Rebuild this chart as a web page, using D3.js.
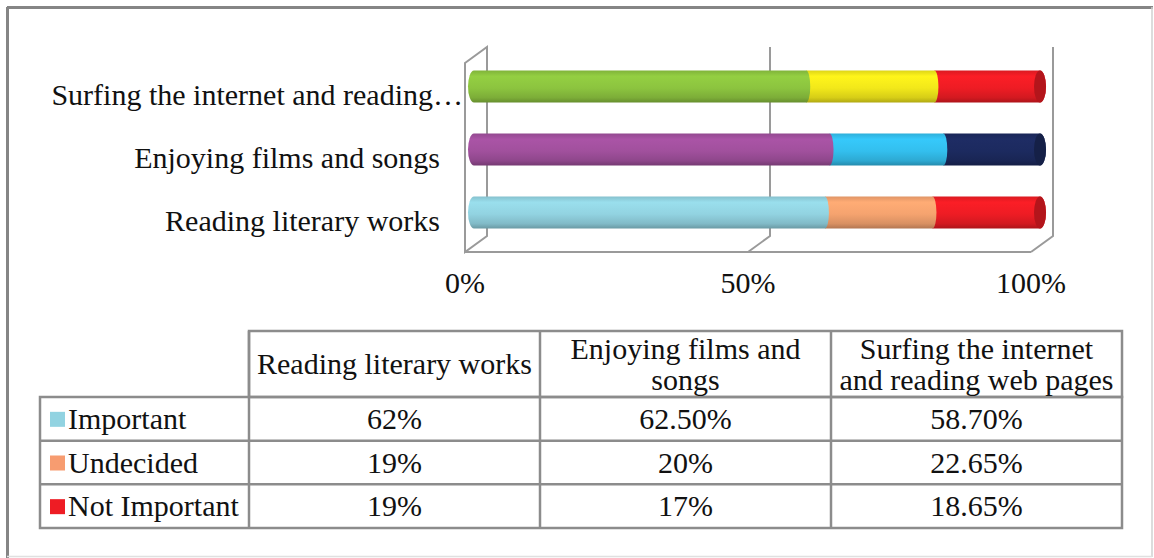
<!DOCTYPE html>
<html>
<head>
<meta charset="utf-8">
<script src="https://cdn.jsdelivr.net/npm/d3@7"></script>
<style>
  html, body { margin: 0; padding: 0; background: #fff; }
  svg { display: block; }
  text { font-family: "Liberation Serif", "Times New Roman", serif; fill: #111; }
</style>
</head>
<body>
<div id="chart"></div>
<script>
// data
const categories = ["Reading literary works", "Enjoying films and songs", "Surfing the internet and reading web pages"];
const axisLabels = ["Reading literary works", "Enjoying films and songs", "Surfing the internet and reading\u2026"];
const headerLines = [["Reading literary works"], ["Enjoying films and", "songs"], ["Surfing the internet", "and reading web pages"]];
const seriesNames = ["Important", "Undecided", "Not Important"];
const important = [62, 62.5, 58.7];
const undecided = [19, 20, 22.65];
const notImportant = [19, 17, 18.65];
const tickValues = [0, 0.5, 1];
const tickLabels = ["0%", "50%", "100%"];
const legendColors = ["#92d3e1", "#f79c70", "#ee1c24"];
// each bar has its own colours (Excel "vary colours by point")
const barColors = [
  ["#92d3e1", "#f5a36f", "#ee1c24"],
  ["#a1509d", "#33bfee", "#1c2a5f"],
  ["#8cc43f", "#f2e81a", "#ee1c24"]
];

const series = [important, undecided, notImportant];
const FS = 30;

const W = 1154, H = 558;
const svg = d3.select("#chart").append("svg").attr("width", W).attr("height", H);
const defs = svg.append("defs");

// outer frame
svg.append("line").attr("x1", 7).attr("y1", 7.5).attr("x2", 1153).attr("y2", 7.5)
  .attr("stroke", "#858585").attr("stroke-width", 3);
svg.append("line").attr("x1", 7.5).attr("y1", 7).attr("x2", 7.5).attr("y2", 558)
  .attr("stroke", "#858585").attr("stroke-width", 3);
svg.append("line").attr("x1", 1152).attr("y1", 7).attr("x2", 1152).attr("y2", 557)
  .attr("stroke", "#d0d0d0").attr("stroke-width", 1.5);
svg.append("line").attr("x1", 7).attr("y1", 556.5).attr("x2", 1152).attr("y2", 556.5)
  .attr("stroke", "#e0e0e0").attr("stroke-width", 1.5);

// ---- 3D bar chart ----
const depthX = 22, depthY = -16;
const x = d3.scaleLinear().domain([0, 1]).range([465, 1031]);
const y = d3.scaleBand().domain(categories.slice().reverse()).range([63, 252]);
const grid = "#9a9a9a";

const walls = svg.append("g").attr("fill", "none").attr("stroke", grid).attr("stroke-width", 2);
const plotTop = y.range()[0], plotBottom = y.range()[1];
// left wall
walls.append("path").attr("d",
  `M${x(0)},${plotTop} L${x(0) + depthX},${plotTop + depthY} L${x(0) + depthX},${plotBottom + depthY} L${x(0)},${plotBottom} Z`);
// gridlines (back wall + floor)
tickValues.slice(1).forEach((t) => {
  walls.append("path").attr("d",
    `M${x(t) + depthX},${plotTop + depthY} L${x(t) + depthX},${plotBottom + depthY} L${x(t)},${plotBottom}`);
});
walls.append("line").attr("x1", x(0)).attr("y1", plotBottom).attr("x2", x(1)).attr("y2", plotBottom);

// tick labels
svg.append("g").selectAll("text").data(tickValues).join("text")
  .attr("x", (d) => x(d)).attr("y", 293)
  .attr("text-anchor", "middle").attr("font-size", FS)
  .text((d, i) => tickLabels[i]);

// category labels
svg.append("g").selectAll("text").data(categories).join("text")
  .attr("x", (d, i) => (i === 2 ? 463 : 440))
  .attr("y", (d) => y(d) + y.bandwidth() / 2 + 10)
  .attr("text-anchor", "end").attr("font-size", FS)
  .text((d, i) => axisLabels[i]);

// gradients for cylinders
function gradId(c) { return "g" + c.replace("#", ""); }
const allColors = Array.from(new Set(barColors.flat()));
allColors.forEach((c) => {
  const base = d3.color(c);
  const g = defs.append("linearGradient").attr("id", gradId(c))
    .attr("x1", 0).attr("y1", 0).attr("x2", 0).attr("y2", 1);
  g.append("stop").attr("offset", "0%").attr("stop-color", base.darker(0.25));
  g.append("stop").attr("offset", "18%").attr("stop-color", base.brighter(0.15));
  g.append("stop").attr("offset", "55%").attr("stop-color", base);
  g.append("stop").attr("offset", "85%").attr("stop-color", base.darker(0.35));
  g.append("stop").attr("offset", "100%").attr("stop-color", base.darker(0.9));
});

const barR = 16, capR = 6, seamR = 4;
const bars = svg.append("g");
categories.forEach((cat, ci) => {
  const vals = series.map((s) => s[ci]);
  const total = d3.sum(vals);
  let acc = 0;
  const segs = vals.map((v, si) => {
    const s = { x0: acc / total, x1: (acc + v) / total, si };
    acc += v;
    return s;
  });
  const cy = y(cat) + y.bandwidth() / 2 + depthY / 2;
  const ox = 9;
  const g = bars.append("g");
  // draw right to left so each convex end covers the next one
  segs.slice().reverse().forEach((s) => {
    const c = barColors[ci][s.si];
    const a = x(s.x0) + ox, b = x(s.x1) + ox;
    const last = s.si === segs.length - 1;
    const r = last ? capR : seamR;
    let d = `M${a},${cy - barR} L${b},${cy - barR} A${r},${barR} 0 0 1 ${b},${cy + barR} L${a},${cy + barR}`;
    if (s.si === 0) d += ` A${capR},${barR} 0 0 1 ${a},${cy - barR}`;
    d += " Z";
    g.append("path").attr("d", d).attr("fill", `url(#${gradId(c)})`);
    if (last) {
      g.append("ellipse").attr("cx", b).attr("cy", cy).attr("rx", capR).attr("ry", barR)
        .attr("fill", d3.color(c).darker(0.8));
    }
  });
});

// ---- data table ----
const colX = d3.scaleBand().domain(categories).range([249, 1122]);
const rowY = d3.scaleBand().domain(seriesNames).range([397, 528]);
const tableLeft = 40, headerTop = 331;
const fmt = (v) => (Number.isInteger(v) ? v + "%" : v.toFixed(2) + "%");

const tbl = svg.append("g").attr("fill", "none").attr("stroke", "#8c8c8c").attr("stroke-width", 2.5);
tbl.append("rect").attr("x", colX.range()[0]).attr("y", headerTop)
  .attr("width", colX.range()[1] - colX.range()[0]).attr("height", rowY.range()[0] - headerTop);
tbl.append("rect").attr("x", tableLeft).attr("y", rowY.range()[0])
  .attr("width", colX.range()[1] - tableLeft).attr("height", rowY.range()[1] - rowY.range()[0]);
categories.slice(1).forEach((c) => {
  tbl.append("line").attr("x1", colX(c)).attr("x2", colX(c)).attr("y1", headerTop).attr("y2", rowY.range()[1]);
});
tbl.append("line").attr("x1", colX.range()[0]).attr("x2", colX.range()[0])
  .attr("y1", headerTop).attr("y2", rowY.range()[1]);
seriesNames.slice(1).forEach((s) => {
  tbl.append("line").attr("x1", tableLeft).attr("x2", colX.range()[1]).attr("y1", rowY(s)).attr("y2", rowY(s));
});

// header text
categories.forEach((c, i) => {
  const lines = headerLines[i];
  const cx = colX(c) + colX.bandwidth() / 2;
  const mid = (headerTop + rowY.range()[0]) / 2;
  const lh = 31;
  lines.forEach((ln, li) => {
    svg.append("text").attr("x", cx)
      .attr("y", mid + 10 + (li - (lines.length - 1) / 2) * lh)
      .attr("text-anchor", "middle").attr("font-size", FS).text(ln);
  });
});

// row labels with legend keys
seriesNames.forEach((s, si) => {
  const cy = rowY(s) + rowY.bandwidth() / 2;
  svg.append("rect").attr("x", 50).attr("y", cy - 7).attr("width", 15).attr("height", 15)
    .attr("fill", legendColors[si]);
  svg.append("text").attr("x", 68).attr("y", cy + 10).attr("font-size", FS).text(s);
  categories.forEach((c, ci) => {
    svg.append("text").attr("x", colX(c) + colX.bandwidth() / 2).attr("y", cy + 10)
      .attr("text-anchor", "middle").attr("font-size", FS).text(fmt(series[si][ci]));
  });
});
</script>
</body>
</html>
